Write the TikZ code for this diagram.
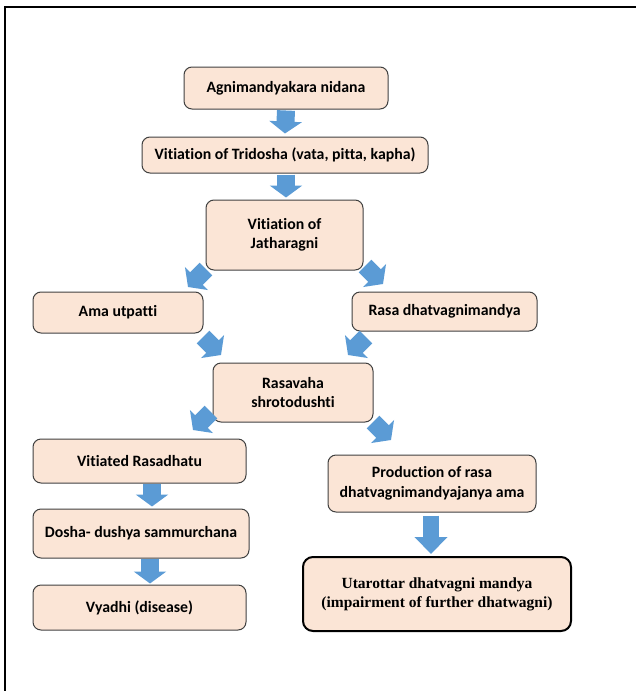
\documentclass[tikz,border=0pt]{standalone}
\usepackage{fontspec}
\setmainfont[Ligatures=NoCommon]{Carlito}
\newfontfamily\timesfont{Liberation Serif}
\usetikzlibrary{arrows.meta,calc}
\definecolor{peach}{HTML}{FBE5D6}
\definecolor{boxline}{HTML}{404040}
\definecolor{arrowblue}{HTML}{5B9BD5}
\tikzset{
  box/.style={draw=boxline, fill=peach, rounded corners=8pt, line width=1pt,
    align=center, inner sep=0pt, text=black,
    font=\fontsize{15.8}{19.5}\selectfont\bfseries},
  bigbox/.style={box, draw=black, line width=2pt, rounded corners=10pt,
    font=\fontsize{15.5}{19}\selectfont\timesfont\bfseries},
  barrow/.style={draw=arrowblue, line width=18pt,
    -{Triangle[width=32pt,length=12pt]}},
  barrowlong/.style={draw=arrowblue, line width=16pt,
    -{Triangle[width=32pt,length=17pt]}},
}
\begin{document}
\begin{tikzpicture}[x=1pt,y=-1pt]
\useasboundingbox (0,0) rectangle (636,691);
% frame
\draw[line width=2pt, line cap=rect] (5,691) -- (5,7) -- (636,7);

\node[box, minimum width=204pt, minimum height=42pt] (agni) at (286,88) {Agnimandyakara nidana};
\node[box, minimum width=286pt, minimum height=36pt] (tri) at (285,155) {Vitiation of Tridosha (vata, pitta, kapha)};
\node[box, minimum width=157pt, minimum height=70pt] (jath) at (284.5,235) {Vitiation of\\Jatharagni};
\node[box, minimum width=170pt, minimum height=41pt] (ama) at (118,312.5) {Ama utpatti};
\node[box, minimum width=185pt, minimum height=39pt] (rasad) at (444.5,311.5) {Rasa dhatvagnimandya};
\node[box, minimum width=160pt, minimum height=59pt] (rasav) at (293,392.5) {Rasavaha\\shrotodushti};
\node[box, minimum width=213pt, minimum height=44pt] (vit) at (139.5,461) {Vitiated Rasadhatu};
\node[box, minimum width=216pt, minimum height=49pt] (dosha) at (141,533.5) {Dosha- dushya sammurchana};
\node[box, minimum width=213pt, minimum height=45pt] (vyadhi) at (139.5,607.5) {Vyadhi (disease)};
\node[box, minimum width=208pt, minimum height=57pt] (prod) at (432,483.5) {Production of rasa\\dhatvagnimandyajanya ama};
\node[bigbox, minimum width=268pt, minimum height=74pt] (utar) at (437,594) {Utarottar dhatvagni mandya\\(impairment of further dhatwagni)};

% vertical block arrows
\draw[barrow] ($(agni.south)+(0,1)$) -- ($(tri.north)+(0,-3)$);
\draw[barrow] ($(tri.south)+(1,1)$) -- ($(jath.north)+(1.5,-2)$);
\draw[barrow] ($(vit.south)+(12.5,0)$) -- ($(dosha.north)+(11,-2)$);
\draw[barrow] ($(dosha.south)+(9,0)$) -- ($(vyadhi.north)+(10.5,-1)$);
\draw[barrowlong] ($(prod.south)+(-1,3)$) -- ($(utar.north)+(-6,-2)$);

% diagonal block arrows
\coordinate (d1s) at (206,269); \coordinate (d1e) at (188,287);
\coordinate (d2s) at (365,266); \coordinate (d2e) at (383,284);
\coordinate (d3s) at (203,337); \coordinate (d3e) at (221,355);
\coordinate (d4s) at (366,337); \coordinate (d4e) at (348,355);
\coordinate (d5s) at (211,412); \coordinate (d5e) at (193,430);
\coordinate (d6s) at (373,422); \coordinate (d6e) at (391,440);
\draw[barrow] (d1s) -- (d1e);
\draw[barrow] (d2s) -- (d2e);
\draw[barrow] (d3s) -- (d3e);
\draw[barrow] (d4s) -- (d4e);
\draw[barrow] (d5s) -- (d5e);
\draw[barrow] (d6s) -- (d6e);
\end{tikzpicture}
\end{document}
